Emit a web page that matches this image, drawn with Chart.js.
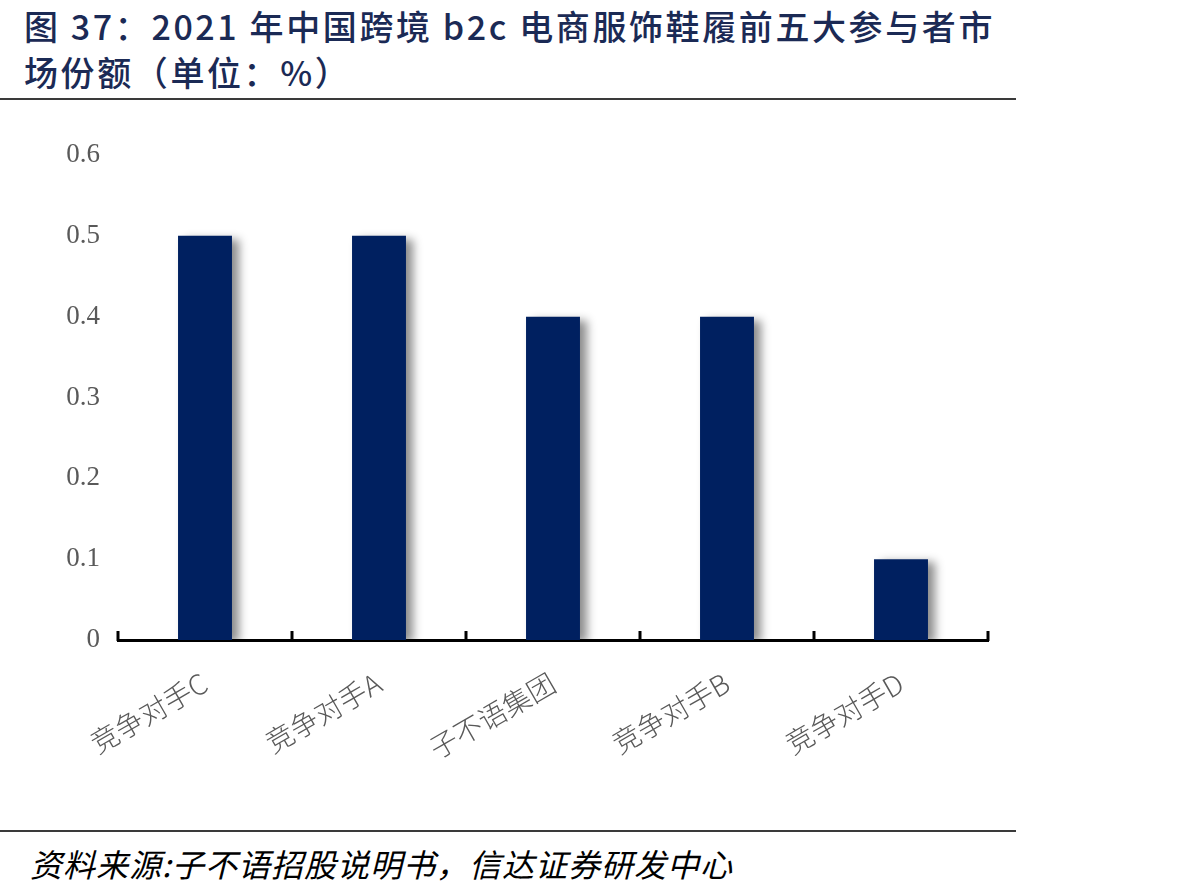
<!DOCTYPE html>
<html>
<head>
<meta charset="utf-8">
<script src="https://cdn.jsdelivr.net/npm/chart.js@4.4.0/dist/chart.umd.min.js"></script>
<style>
  body{margin:0;background:#fff;width:1177px;height:893px;position:relative;overflow:hidden;}
  .title{position:absolute;left:24px;top:3px;font-family:"Noto Sans CJK SC",sans-serif;font-size:34px;line-height:46px;letter-spacing:2.6px;color:#1b2a55;font-weight:500;white-space:nowrap;}
  .rule{position:absolute;left:0;width:1016px;height:2px;background:#3a3a3a;}
  .src{position:absolute;left:30px;top:840px;font-family:"Noto Sans CJK SC",sans-serif;font-size:32px;letter-spacing:1px;font-style:italic;color:#000;white-space:nowrap;}
  #wrap{position:absolute;left:0;top:110px;width:1020px;height:700px;}
</style>
</head>
<body>
<div class="title">图 37：2021 年中国跨境 b2c 电商服饰鞋履前五大参与者市<br>场份额（单位：%）</div>
<div class="rule" style="top:98px"></div>
<div id="wrap"><canvas id="chartMercado"></canvas></div>
<div class="rule" style="top:830px"></div>
<div class="src">资料来源:子不语招股说明书，信达证券研发中心</div>
<script>
//=========================datos============================
const categorias = ['竞争对手C','竞争对手A','子不语集团','竞争对手B','竞争对手D'];
const cuotas     = [0.5, 0.5, 0.4, 0.4, 0.1];
const ticksY     = [0, 0.1, 0.2, 0.3, 0.4, 0.5, 0.6];

// sombra de las barras
const sombraBarras = {
  id:'sombraBarras',
  beforeDatasetsDraw(chart){
    const ctx = chart.ctx;
    ctx.save();
    ctx.shadowColor   = 'rgba(0,0,0,0.45)';
    ctx.shadowBlur    = 9;
    ctx.shadowOffsetX = 7;
    ctx.shadowOffsetY = 3;
  },
  afterDatasetsDraw(chart){ chart.ctx.restore(); }
};

// marcas cortas hacia arriba en los limites de categoria
const marcasEje = {
  id:'marcasEje',
  afterDraw(chart){
    const sx = chart.scales.x, ctx = chart.ctx;
    const n = categorias.length, paso = sx.width/n;
    ctx.save();
    ctx.strokeStyle = '#000';
    ctx.lineWidth = 3;
    for(let i=0;i<=n;i++){
      const x = sx.left + i*paso;
      ctx.beginPath();
      ctx.moveTo(x, sx.top+1);
      ctx.lineTo(x, sx.top-9);
      ctx.stroke();
    }
    ctx.restore();
  }
};

const fuenteNum = '"Liberation Serif","Noto Sans CJK SC",serif';
const ctx = document.getElementById('chartMercado').getContext('2d');
new Chart(ctx, {
  type:'bar',
  data:{
    labels: categorias,
    datasets:[{
      label:'份额',
      data: cuotas,
      backgroundColor:'#002060',
      borderWidth:0,
      categoryPercentage:1,
      barPercentage:0.31
    }]
  },
  options:{
    responsive:true,
    maintainAspectRatio:false,
    animation:false,
    layout:{ padding:{ top:45, right:32, left:0, bottom:0 } },
    plugins:{ legend:{display:false}, tooltip:{enabled:false} },
    scales:{
      x:{
        grid:{ display:false, drawTicks:false },
        border:{ display:true, color:'#000', width:3 },
        ticks:{
          autoSkip:false, maxRotation:30, minRotation:30, padding:26,
          color:'#595959', font:{ family:'"Noto Sans CJK SC",sans-serif', size:28, weight:300 }
        },
        afterFit(scale){ scale.height = 170; }
      },
      y:{
        min:0, max:0.6,
        grid:{ display:false, drawTicks:false },
        border:{ display:false },
        afterBuildTicks(scale){ scale.ticks = ticksY.map(v => ({value:v})); },
        ticks:{
          padding:18, color:'#595959',
          font:{ family:fuenteNum, size:27 },
          callback:(v) => (v===0 ? '0' : Number(v).toFixed(1))
        },
        afterFit(scale){ scale.width = 118; }
      }
    }
  },
  plugins:[sombraBarras, marcasEje]
});
</script>
</body>
</html>
